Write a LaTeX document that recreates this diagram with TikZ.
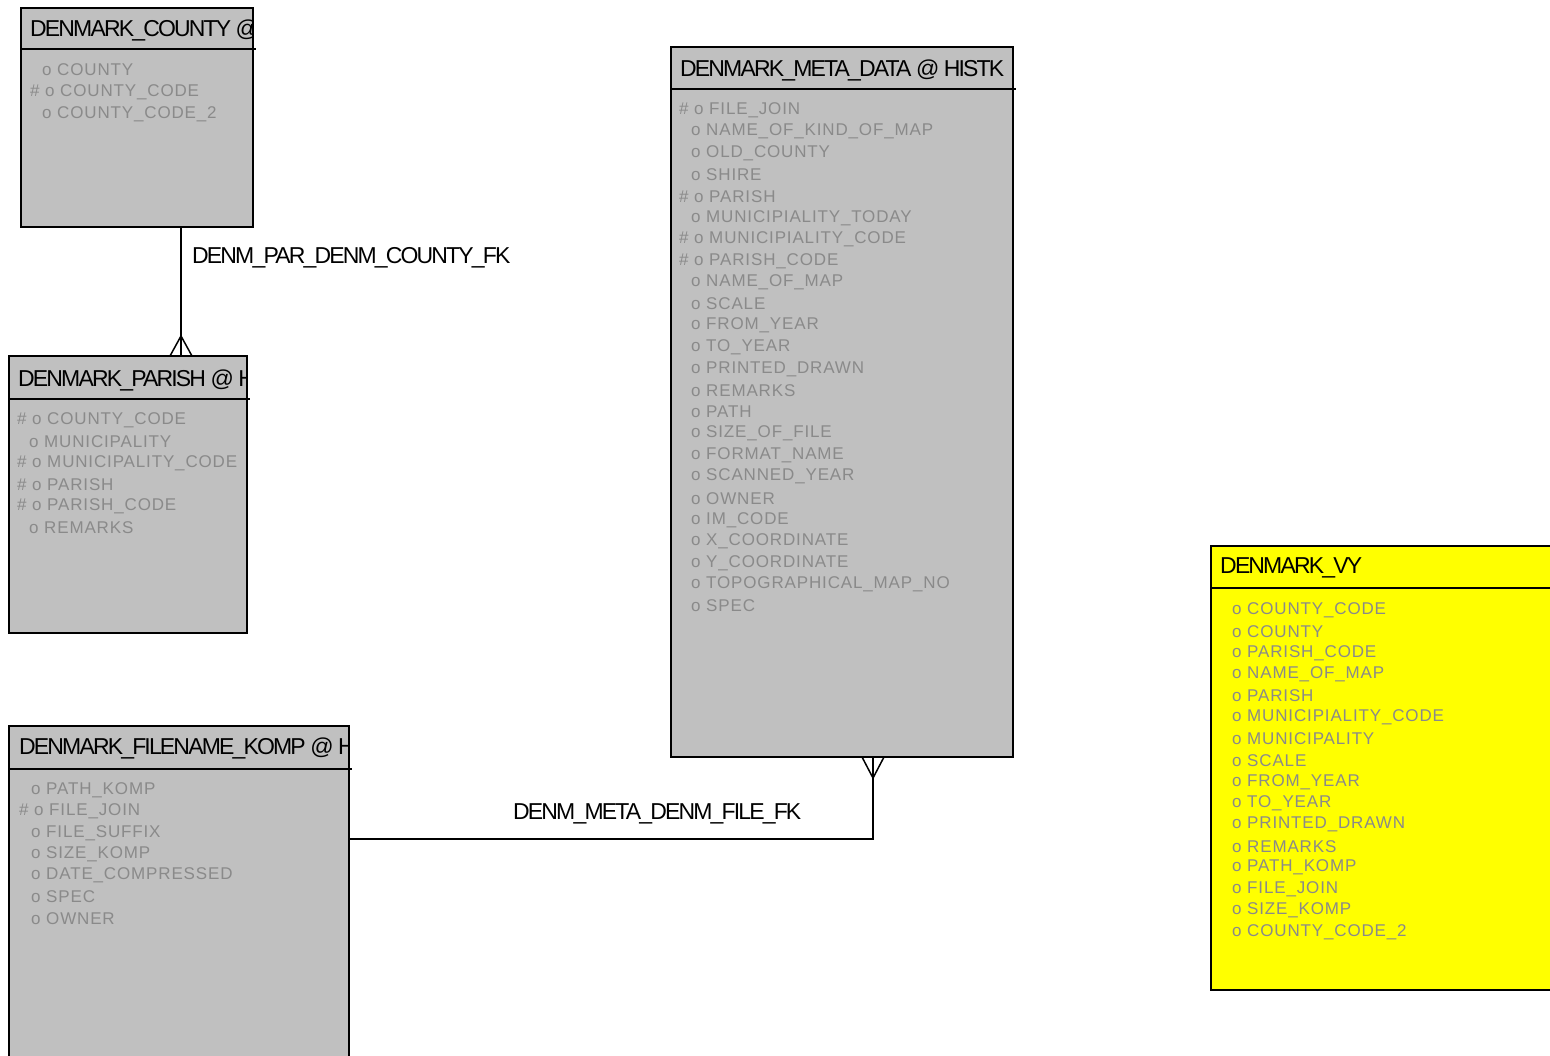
\documentclass[tikz,border=0pt]{standalone}
\usepackage{fontspec}
\setmainfont{Liberation Sans}
\newfontfamily\erdtitlefont[LetterSpace=-8]{Liberation Sans}
\newfontfamily\erdattrfont[LetterSpace=5]{Liberation Sans}
\usepackage{tikz}
\definecolor{tblgray}{HTML}{C0C0C0}
\definecolor{attgray}{HTML}{8A8A8A}
\definecolor{viewyellow}{HTML}{FFFF00}
\newcommand{\pkrow}{\#~o~}
\newcommand{\nkrow}{\hspace*{12pt}o~}
\tikzset{
  tbl/.style={draw=black, line width=1.5pt, fill=tblgray, inner sep=0pt, outer sep=0pt, anchor=north west},
  ttl/.style={anchor=west, inner sep=0pt, font=\erdtitlefont\fontsize{23pt}{26pt}\selectfont},
  att/.style={anchor=west, inner sep=0pt, text=attgray, font=\erdattrfont\fontsize{17pt}{20pt}\selectfont},
  sep/.style={line width=1.5pt},
  rel/.style={line width=1.5pt},
  fklabel/.style={anchor=west, inner sep=0pt, font=\erdtitlefont\fontsize{23pt}{26pt}\selectfont}
}

\begin{document}
\begin{tikzpicture}[x=1pt,y=-1pt]
\clip (0,0) rectangle (1550,1055);
\fill[white] (0,0) rectangle (1550,1055);

% DENMARK_COUNTY
\node[tbl, minimum width=232, minimum height=219] (county) at (21,8) {};
\begin{scope}
\clip (county.north west) rectangle ([xshift=-1pt]county.south east);
\node[ttl] (county-t) at ([xshift=9pt,yshift=-22pt]county.north west) {DENMARK\_COUNTY @};
\foreach \a [count=\i] in {\nkrow COUNTY, \pkrow COUNTY\_CODE, \nkrow COUNTY\_CODE\_2}
  \node[att] (county-a\i) at ([xshift=9pt,yshift={-62pt-(\i-1)*22pt}]county.north west) {\a};
\end{scope}
\draw[sep] ([yshift=-41pt]county.north west) -- ++(235,0);

% DENMARK_PARISH
\node[tbl, minimum width=238, minimum height=277] (parish) at (9,356) {};
\begin{scope}
\clip (parish.north west) rectangle ([xshift=-1pt]parish.south east);
\node[ttl] (parish-t) at ([xshift=9pt,yshift=-24pt]parish.north west) {DENMARK\_PARISH @ H};
\foreach \a [count=\i] in {\pkrow COUNTY\_CODE, \nkrow MUNICIPALITY, \pkrow MUNICIPALITY\_CODE, \pkrow PARISH, \pkrow PARISH\_CODE, \nkrow REMARKS}
  \node[att] (parish-a\i) at ([xshift=8pt,yshift={-64pt-(\i-1)*21.6pt}]parish.north west) {\a};
\end{scope}
\draw[sep] ([yshift=-43pt]parish.north west) -- ++(241,0);

% DENMARK_FILENAME_KOMP
\node[tbl, minimum width=340, minimum height=360] (filename) at (9,726) {};
\begin{scope}
\clip (filename.north west) rectangle ([xshift=-1pt]filename.south east);
\node[ttl] (filename-t) at ([xshift=10pt,yshift=-22pt]filename.north west) {DENMARK\_FILENAME\_KOMP @ H};
\foreach \a [count=\i] in {\nkrow PATH\_KOMP, \pkrow FILE\_JOIN, \nkrow FILE\_SUFFIX, \nkrow SIZE\_KOMP, \nkrow DATE\_COMPRESSED, \nkrow SPEC, \nkrow OWNER}
  \node[att] (filename-a\i) at ([xshift=10pt,yshift={-64pt-(\i-1)*21.4pt}]filename.north west) {\a};
\end{scope}
\draw[sep] ([yshift=-43pt]filename.north west) -- ++(343,0);

% DENMARK_META_DATA
\node[tbl, minimum width=342, minimum height=710] (meta) at (671,47) {};
\begin{scope}
\clip (meta.north west) rectangle ([xshift=-1pt]meta.south east);
\node[ttl] (meta-t) at ([xshift=9pt,yshift=-23pt]meta.north west) {DENMARK\_META\_DATA @ HISTK};
\foreach \a [count=\i] in {\pkrow FILE\_JOIN, \nkrow NAME\_OF\_KIND\_OF\_MAP, \nkrow OLD\_COUNTY, \nkrow SHIRE,
    \pkrow PARISH, \nkrow MUNICIPIALITY\_TODAY, \pkrow MUNICIPIALITY\_CODE, \pkrow PARISH\_CODE,
    \nkrow NAME\_OF\_MAP, \nkrow SCALE, \nkrow FROM\_YEAR, \nkrow TO\_YEAR, \nkrow PRINTED\_DRAWN,
    \nkrow REMARKS, \nkrow PATH, \nkrow SIZE\_OF\_FILE, \nkrow FORMAT\_NAME, \nkrow SCANNED\_YEAR,
    \nkrow OWNER, \nkrow IM\_CODE, \nkrow X\_COORDINATE, \nkrow Y\_COORDINATE,
    \nkrow TOPOGRAPHICAL\_MAP\_NO, \nkrow SPEC}
  \node[att] (meta-a\i) at ([xshift=8pt,yshift={-63pt-(\i-1)*21.57pt}]meta.north west) {\a};
\end{scope}
\draw[sep] ([yshift=-42pt]meta.north west) -- ++(345,0);

% DENMARK_VY
\node[tbl, fill=viewyellow, minimum width=400, minimum height=444] (vy) at (1211,546) {};
\node[ttl] (vy-t) at ([xshift=9pt,yshift=-22pt]vy.north west) {DENMARK\_VY};
\foreach \a [count=\i] in {COUNTY\_CODE, COUNTY, PARISH\_CODE, NAME\_OF\_MAP, PARISH,
    MUNICIPIALITY\_CODE, MUNICIPALITY, SCALE, FROM\_YEAR, TO\_YEAR, PRINTED\_DRAWN,
    REMARKS, PATH\_KOMP, FILE\_JOIN, SIZE\_KOMP, COUNTY\_CODE\_2}
  \node[att] (vy-a\i) at ([xshift=9pt,yshift={-64pt-(\i-1)*21.47pt}]vy.north west) {\nkrow\a};
\draw[sep] ([yshift=-42pt]vy.north west) -- ++(400,0);

% DENM_PAR_DENM_COUNTY_FK
\coordinate (parfoot) at ([xshift=172pt]parish.north west);
\draw[rel] (parfoot |- county.south) -- (parfoot);
\draw[rel] ([xshift=-11pt]parfoot) -- ([yshift=20pt]parfoot) -- ([xshift=11pt]parfoot);
\node[fklabel] (fk-county) at (192,258) {DENM\_PAR\_DENM\_COUNTY\_FK};

% DENM_META_DENM_FILE_FK
\coordinate (metafoot) at ([xshift=202pt]meta.south west);
\coordinate (filestart) at ([yshift=-113pt]filename.north east);
\draw[rel] (filestart) -| (metafoot);
\draw[rel] ([xshift=-11pt]metafoot) -- ([yshift=-21pt]metafoot) -- ([xshift=11pt]metafoot);
\node[fklabel] (fk-file) at (513,814) {DENM\_META\_DENM\_FILE\_FK};
\end{tikzpicture}
\end{document}
